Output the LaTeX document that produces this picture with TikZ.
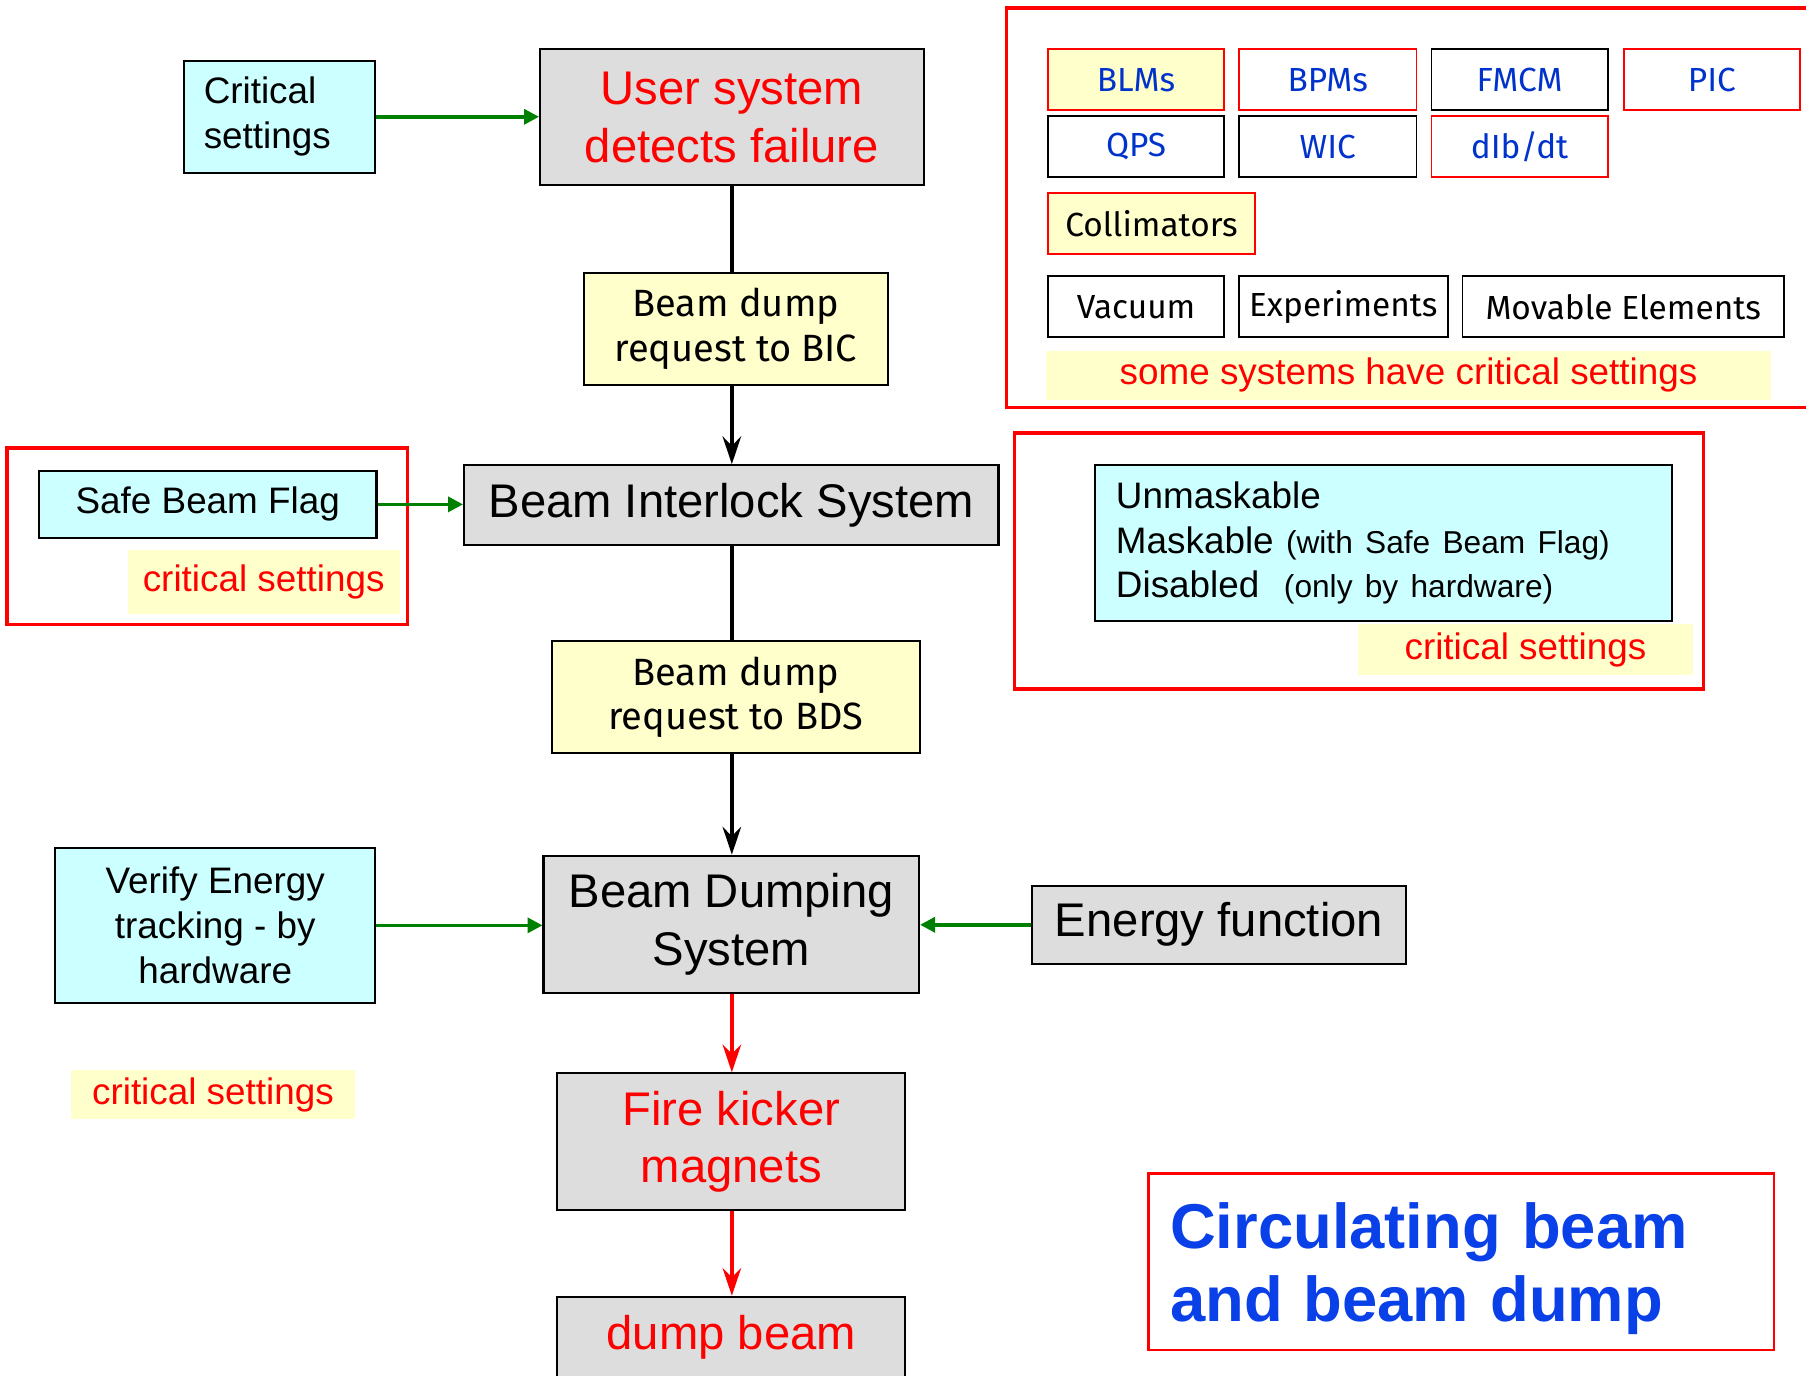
\documentclass[tikz,border=0pt]{standalone}
\usepackage{fontspec}
\setmainfont{Liberation Sans}
\newfontfamily\hand{Fira Sans}
\usetikzlibrary{arrows.meta}

\definecolor{cyanfill}{HTML}{CCFFFF}
\definecolor{grayfill}{HTML}{DDDDDD}
\definecolor{yellowfill}{HTML}{FFFFCC}
\definecolor{linkgreen}{HTML}{008000}
\definecolor{tagblue}{HTML}{0033CC}
\definecolor{titleblue}{HTML}{0A40E8}
\definecolor{alertred}{HTML}{FF0000}

\tikzset{
  boxbase/.style={line width=1.8pt, inner sep=0pt, align=center, anchor=north west},
  graybox/.style={boxbase, draw=black, fill=grayfill},
  cyanbox/.style={boxbase, draw=black, fill=cyanfill},
  yellowbox/.style={boxbase, draw=black, fill=yellowfill},
  tagbox/.style={boxbase, line width=1.6pt, font=\hand\fontsize{29}{34}\selectfont, text=tagblue},
  redframe/.style={draw=alertred, line width=3pt},
  notelabel/.style={boxbase, fill=yellowfill, text=alertred, font=\fontsize{32}{39}\selectfont},
  bigtext/.style={font=\fontsize{41}{50}\selectfont},
  midtext/.style={font=\fontsize{32}{39}\selectfont},
  handtext/.style={font=\hand\fontsize{33}{39}\selectfont},
  flow/.style={line width=3.5pt, draw=black},
  flowarrow/.style={flow, -{Stealth[length=24pt,width=16pt,inset=8pt]}},
  firearrow/.style={line width=3.5pt, draw=alertred, -{Stealth[length=24pt,width=16pt,inset=8pt]}},
  feed/.style={line width=3pt, draw=linkgreen, -{Triangle[length=13pt,width=13pt]}}
}

\begin{document}
\begin{tikzpicture}[x=1pt,y=-1pt]
\useasboundingbox (0,0) rectangle (1568,1194);

% ---- main chain ----
\node[graybox, text=alertred, bigtext, minimum width=333pt, minimum height=118pt]
  (user) at (468,42) {User system\\detects failure};
\node[yellowbox, handtext, minimum width=264pt, minimum height=97pt]
  (bic) at (506,236) {Beam dump\\request to BIC};
\node[graybox, bigtext, minimum width=464pt, minimum height=69pt]
  (bis) at (402,403) {Beam Interlock System};
\node[yellowbox, handtext, minimum width=320pt, minimum height=97pt]
  (bdsreq) at (478,556) {Beam dump\\request to BDS};
\node[graybox, bigtext, minimum width=326pt, minimum height=119pt]
  (bds) at (471,742) {Beam Dumping\\System};
\node[graybox, text=alertred, bigtext, minimum width=302pt, minimum height=119pt]
  (fire) at (483,931) {Fire kicker\\magnets};
\node[graybox, text=alertred, bigtext, minimum width=302pt, minimum height=71pt]
  (dump) at (483,1125) {dump beam};

% the chain runs straight down one vertical line
\draw[flow] (user.south) -- (bic.north -| user.south);
\draw[flowarrow] (bic.south -| user.south) -- (bis.north -| user.south);
\draw[flow] (bis.south -| user.south) -- (bdsreq.north -| user.south);
\draw[flowarrow] (bdsreq.south -| user.south) -- (bds.north -| user.south);
\draw[firearrow] (bds.south -| user.south) -- (fire.north -| user.south);
\draw[firearrow] (fire.south -| user.south) -- (dump.north -| user.south);

% ---- inputs on the left ----
\node[cyanbox, midtext, align=left, text width=132pt, inner xsep=17pt,
  minimum width=166pt, minimum height=97pt] (crit) at (159,52) {Critical\\settings};
\draw[feed] (crit.east) -- (crit.east -| user.west);

\draw[redframe] (6,389) rectangle (354,542);
\node[cyanbox, midtext, minimum width=293pt, minimum height=58pt]
  (sbf) at (33,408) {Safe Beam Flag};
\node[notelabel, minimum width=236pt, minimum height=55pt]
  (sbfnote) at (110,477) {critical settings};
\draw[feed] (sbf.east) -- (sbf.east -| bis.west);

\node[cyanbox, midtext, minimum width=278pt, minimum height=135pt]
  (verify) at (47,735) {Verify Energy\\tracking - by\\hardware};
\draw[feed] (verify.east) -- (verify.east -| bds.west);
\node[notelabel, minimum width=246pt, minimum height=43pt]
  (verifynote) at (61,928) {critical settings};

% ---- energy function on the right ----
\node[graybox, bigtext, minimum width=325pt, minimum height=68pt]
  (energy) at (895,768) {Energy function};
\draw[feed] (energy.west) -- (energy.west -| bds.east);

% ---- user systems ----
\draw[redframe] (874,7) rectangle (1580,354);
\node[tagbox, draw=alertred, fill=yellowfill, minimum width=153pt, minimum height=53pt]
  (blm) at (909,42) {BLMs};
\node[tagbox, draw=alertred, fill=white, minimum width=154pt, minimum height=53pt]
  (bpm) at (1075,42) {BPMs};
\node[tagbox, draw=black, fill=white, minimum width=153pt, minimum height=53pt]
  (fmcm) at (1242,42) {FMCM};
\node[tagbox, draw=alertred, fill=white, minimum width=153pt, minimum height=53pt]
  (pic) at (1409,42) {PIC};
\node[tagbox, draw=black, fill=white, minimum width=153pt, minimum height=53pt]
  (qps) at (909,100) {QPS};
\node[tagbox, draw=black, fill=white, minimum width=154pt, minimum height=53pt]
  (wic) at (1075,100) {WIC};
\node[tagbox, draw=alertred, fill=white, minimum width=153pt, minimum height=53pt]
  (dibdt) at (1242,100) {dIb/dt};
\node[tagbox, draw=alertred, fill=yellowfill, text=black, minimum width=180pt, minimum height=53pt]
  (coll) at (909,167) {Collimators};
\node[tagbox, draw=black, fill=white, text=black, minimum width=153pt, minimum height=53pt]
  (vac) at (909,239) {Vacuum};
\node[tagbox, draw=black, fill=white, text=black, minimum width=181pt, minimum height=53pt]
  (expt) at (1075,239) {Experiments};
\node[tagbox, draw=black, fill=white, text=black, minimum width=279pt, minimum height=53pt]
  (movable) at (1269,239) {Movable Elements};
\node[notelabel, minimum width=630pt, minimum height=42pt]
  (sysnote) at (907,304) {some systems have critical settings};

% ---- interlock input modes ----
\draw[redframe] (881,376) rectangle (1479,598);
\node[cyanbox, midtext, align=left, text width=465pt, inner xsep=18pt,
  minimum width=501pt, minimum height=135pt] (modes) at (950,403)
  {Unmaskable\\
   Maskable {\fontsize{27.5}{39}\selectfont(with Safe Beam Flag)}\\
   Disabled\ \ {\fontsize{27.5}{39}\selectfont(only by hardware)}};
\node[notelabel, minimum width=291pt, minimum height=44pt]
  (modesnote) at (1178,541) {critical settings};

% ---- title ----
\draw[draw=alertred, line width=2.2pt] (997,1019) rectangle (1540,1172);
\node[boxbase, align=left, text=titleblue, font=\bfseries\fontsize{55}{64}\selectfont,
  text width=510pt, inner xsep=0pt] (title) at (1015,1043)
  {Circulating beam\\and beam dump};
\end{tikzpicture}
\end{document}
